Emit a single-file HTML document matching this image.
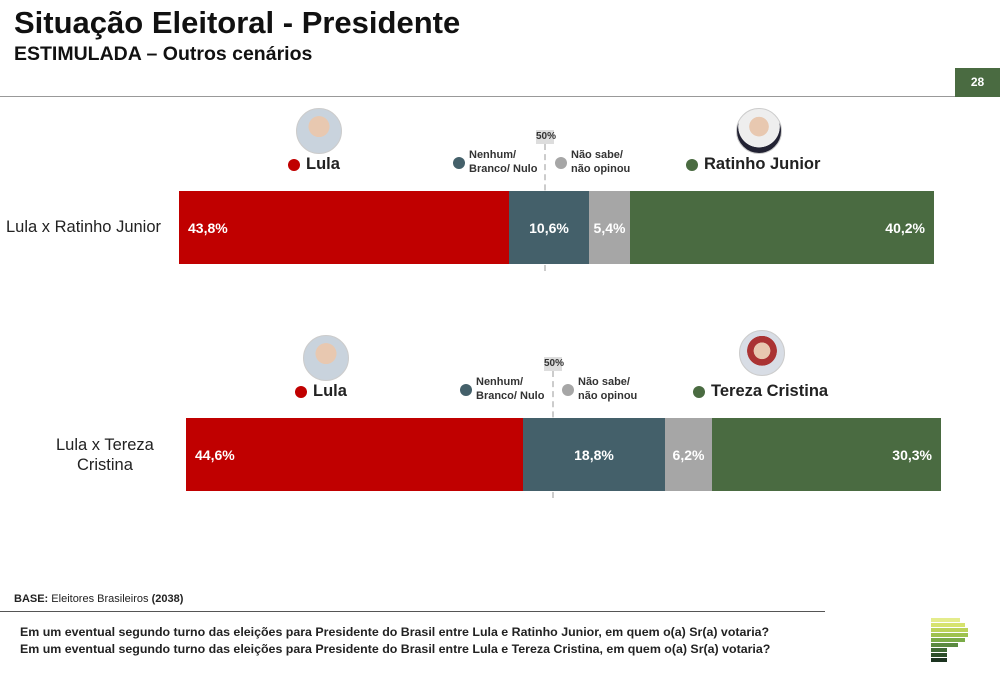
<!DOCTYPE html><html><head><style>
body{margin:0;width:1000px;height:678px;position:relative;background:#fff;font-family:"Liberation Sans",Arial,sans-serif;overflow:hidden}
.a{position:absolute}
.seg{position:absolute;top:0;height:100%;color:#fff;font-weight:bold;font-size:14px;display:flex;align-items:center}
.dot{display:inline-block;width:12px;height:12px;border-radius:50%;vertical-align:middle;margin-right:6px}
.sm{font-size:11px;font-weight:bold;color:#333;line-height:14px}
.big{font-size:16.5px;font-weight:bold;color:#222}
.av{position:absolute;width:44px;height:44px;border-radius:50%;background:radial-gradient(circle at 50% 40%,#e8c8b0 0 30%,#c9d3dd 31% 100%);border:1px solid #ccc}
.tab{position:absolute;width:18px;height:14px;background:#ddd;font-size:10px;font-weight:bold;color:#333;text-align:center;line-height:14px}
.dash{position:absolute;width:0;border-left:2px dashed #ccc}
</style></head><body>
<div class="a" style="left:14px;top:5px;font-size:31px;font-weight:bold;color:#111">Situação Eleitoral - Presidente</div>
<div class="a" style="left:14px;top:43px;font-size:19.5px;font-weight:bold;color:#111">ESTIMULADA – Outros cenários</div>
<div class="a" style="left:0;top:96px;width:955px;height:1px;background:#999"></div>
<div class="a" style="left:955px;top:68px;width:45px;height:29px;background:#4a6b41;color:#fff;font-size:12px;font-weight:bold;text-align:center;line-height:29px">28</div>

<!-- row 1 -->
<div class="av" style="left:296px;top:108px"></div>
<div class="a big" style="left:288px;top:155px"><span class="dot" style="background:#c00000"></span>Lula</div>
<div class="a sm" style="left:453px;top:148px"><span class="dot" style="background:#44606a;position:absolute;left:0;top:9px"></span><div style="margin-left:16px">Nenhum/<br>Branco/ Nulo</div></div>
<div class="a sm" style="left:555px;top:148px"><span class="dot" style="background:#a6a6a6;position:absolute;left:0;top:9px"></span><div style="margin-left:16px">Não sabe/<br>não opinou</div></div>
<div class="av" style="left:736px;top:108px;background:radial-gradient(circle at 50% 40%,#e8c8b0 0 28%,#eee 29% 60%,#223 61%)"></div>
<div class="a big" style="left:686px;top:155px"><span class="dot" style="background:#4a6b41"></span>Ratinho Junior</div>
<div class="tab" style="left:536px;top:130px">50%</div>
<div class="dash" style="left:544px;top:144px;height:127px"></div>
<div class="a" style="left:6px;top:218px;font-size:16.5px;color:#222">Lula x Ratinho Junior</div>
<div class="a" style="left:179px;top:191px;width:755px;height:73px">
<div class="seg" style="left:0;width:330px;background:#c00000;padding-left:9px;box-sizing:border-box">43,8%</div>
<div class="seg" style="left:330px;width:80px;background:#44606a;justify-content:center">10,6%</div>
<div class="seg" style="left:410px;width:41px;background:#a6a6a6;justify-content:center">5,4%</div>
<div class="seg" style="left:451px;width:304px;background:#4a6b41;justify-content:flex-end;padding-right:9px;box-sizing:border-box">40,2%</div>
</div>

<!-- row 2 -->
<div class="av" style="left:303px;top:335px"></div>
<div class="a big" style="left:295px;top:382px"><span class="dot" style="background:#c00000"></span>Lula</div>
<div class="a sm" style="left:460px;top:375px"><span class="dot" style="background:#44606a;position:absolute;left:0;top:9px"></span><div style="margin-left:16px">Nenhum/<br>Branco/ Nulo</div></div>
<div class="a sm" style="left:562px;top:375px"><span class="dot" style="background:#a6a6a6;position:absolute;left:0;top:9px"></span><div style="margin-left:16px">Não sabe/<br>não opinou</div></div>
<div class="av" style="left:739px;top:330px;background:radial-gradient(circle at 50% 45%,#e8c8b0 0 25%,#a33 26% 45%,#d8dde5 46%)"></div>
<div class="a big" style="left:693px;top:382px"><span class="dot" style="background:#4a6b41"></span>Tereza Cristina</div>
<div class="tab" style="left:544px;top:357px">50%</div>
<div class="dash" style="left:552px;top:371px;height:127px"></div>
<div class="a" style="left:56px;top:435px;font-size:16.5px;color:#222;text-align:center;line-height:20px">Lula x Tereza<br>Cristina</div>
<div class="a" style="left:186px;top:418px;width:755px;height:73px">
<div class="seg" style="left:0;width:337px;background:#c00000;padding-left:9px;box-sizing:border-box">44,6%</div>
<div class="seg" style="left:337px;width:142px;background:#44606a;justify-content:center">18,8%</div>
<div class="seg" style="left:479px;width:47px;background:#a6a6a6;justify-content:center">6,2%</div>
<div class="seg" style="left:526px;width:229px;background:#4a6b41;justify-content:flex-end;padding-right:9px;box-sizing:border-box">30,3%</div>
</div>

<div class="a" style="left:14px;top:593px;font-size:11px;color:#222"><b>BASE:</b> Eleitores Brasileiros <b>(2038)</b></div>
<div class="a" style="left:0;top:611px;width:825px;height:1px;background:#555"></div>
<div class="a" style="left:20px;top:624px;font-size:12.4px;font-weight:bold;color:#222;line-height:17px;white-space:nowrap">Em um eventual segundo turno das eleições para Presidente do Brasil entre Lula e Ratinho Junior, em quem o(a) Sr(a) votaria?<br>Em um eventual segundo turno das eleições para Presidente do Brasil entre Lula e Tereza Cristina, em quem o(a) Sr(a) votaria?</div>

<div class="a" style="left:931px;top:618px">
<div style="width:29px;height:4px;background:#e4ec8c;margin-bottom:1px"></div>
<div style="width:34px;height:4px;background:#d6e36e;margin-bottom:1px"></div>
<div style="width:37px;height:4px;background:#bcd35a;margin-bottom:1px"></div>
<div style="width:37px;height:4px;background:#9ec24e;margin-bottom:1px"></div>
<div style="width:34px;height:4px;background:#7aab47;margin-bottom:1px"></div>
<div style="width:27px;height:4px;background:#5a8a40;margin-bottom:1px"></div>
<div style="width:16px;height:4px;background:#3f6a35;margin-bottom:1px"></div>
<div style="width:16px;height:4px;background:#2d4f2a;margin-bottom:1px"></div>
<div style="width:16px;height:4px;background:#1c3320"></div>
</div>
</body></html>
